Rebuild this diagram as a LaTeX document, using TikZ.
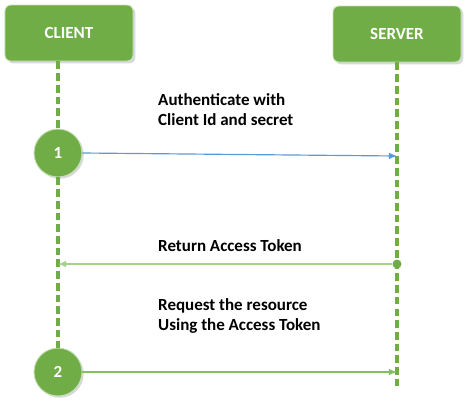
\documentclass[tikz,border=0pt]{standalone}
\usepackage{fontspec}
\setmainfont{Carlito}
\usepackage{xcolor}
\usetikzlibrary{arrows.meta, positioning, shadows, calc}

\definecolor{boxgreen}{HTML}{70AD47}
\definecolor{rimgreen}{HTML}{C5E0B4}
\definecolor{retgreen}{HTML}{A9D18E}
\definecolor{reqgreen}{HTML}{86BE62}
\definecolor{msgblue}{HTML}{5B9BD5}

\begin{document}
\begin{tikzpicture}[x=0.03cm, y=-0.03cm,
  actor/.style={rectangle, rounded corners=5pt, draw=rimgreen, line width=0.8pt, fill=boxgreen, minimum width=3.84cm, minimum height=1.68cm, text=white, font=\bfseries\fontsize{14.5}{16}\selectfont, drop shadow={opacity=0.3, shadow xshift=2pt, shadow yshift=-2pt}},
  stepnum/.style={circle, draw=rimgreen, line width=0.8pt, fill=boxgreen, minimum size=1.44cm, inner sep=0pt, text=white, font=\bfseries\fontsize{14.5}{16}\selectfont, drop shadow={opacity=0.3, shadow xshift=1.5pt, shadow yshift=-1.5pt}},
  lifeline/.style={boxgreen, line width=2.8pt, dash pattern=on 6.5pt off 3.5pt},
  msg/.style={anchor=base west, align=left, inner sep=0pt, font=\bfseries\fontsize{14.5}{16.5}\selectfont},
  tip/.style={-{Latex[length=7pt, width=6pt]}}]
\useasboundingbox (0,0) rectangle (474,410);

% actors
\node[actor] (client) at (69,33) {CLIENT};
\node[actor] (server) at (397,34) {SERVER};

% steps
\node[stepnum] (step1) at (58,153) {1};
\node[stepnum] (step2) at (58,372) {2};

\coordinate (srvend) at (397,390);
\coordinate (authend) at (397,156);
\coordinate (reqend) at (397,371);
\node[circle, fill=boxgreen, inner sep=0pt, minimum size=0.27cm] (retdot) at (397,264) {};

% lifelines
\draw[lifeline] (step1 |- client.south) -- (step1.north);
\draw[lifeline] (step1.south) -- (step2.north);
\draw[lifeline] (server.south) -- (srvend);

% messages
\draw[tip, msgblue, line width=1pt] (step1.east) -- (authend);
\draw[tip, retgreen, line width=1.2pt] (retdot) -- (step1 |- retdot);
\draw[tip, reqgreen, line width=1.2pt] (step2.east) -- (step2.east -| reqend);

\node[msg] (authtext) at (158,125) {Authenticate with\\Client Id and secret};
\node[msg] (rettext) at (158,251) {Return Access Token};
\node[msg] (reqtext) at (158,330) {Request the resource\\Using the Access Token};
\end{tikzpicture}
\end{document}
